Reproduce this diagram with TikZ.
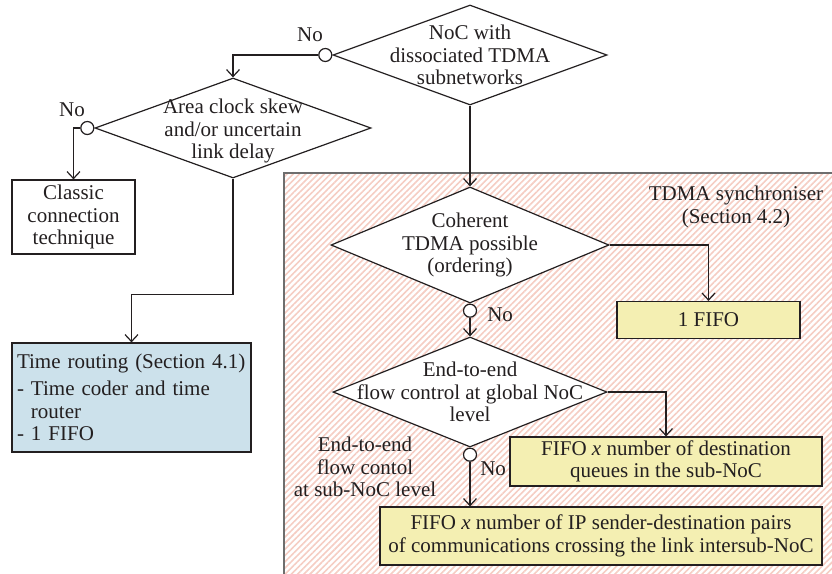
\documentclass[tikz,border=0pt]{standalone}
\usepackage{fontspec}
\setmainfont{Liberation Serif}
\usetikzlibrary{arrows.meta,shapes.geometric,patterns.meta,positioning}

\definecolor{ink}{HTML}{231F20}
\definecolor{rule}{HTML}{6E6E6E}
\definecolor{hatch}{RGB}{245,205,195}
\definecolor{routefill}{HTML}{CCE1EB}
\definecolor{fifofill}{HTML}{F4EFB2}

\begin{document}
\begin{tikzpicture}[x=1pt, y=-1pt,
        every node/.style={text=ink, font=\fontsize{21}{22.5}\selectfont},
        decision/.style={diamond, draw=ink, fill=white, line width=1.2pt, inner sep=0pt},
        words/.style={align=center, inner sep=0pt},
        box/.style={rectangle, draw=ink, line width=1.2pt, align=center, inner sep=0pt},
        tap/.style={circle, draw=ink, fill=white, line width=1.2pt, minimum size=13pt, inner sep=0pt},
        flow/.style={draw=ink, line width=1.2pt, -{Straight Barb[length=7pt, width=13pt]}}]
        \useasboundingbox (0,0) rectangle (832,573);

        \path[pattern={Lines[angle=45, distance=4.4pt, line width=1.6pt]}, pattern color=hatch] (284,173) rectangle (840,580);
        \draw[rule, line width=1.5pt] (284,580) -- (284,173) -- (840,173);

        \node[decision, minimum width=274pt, minimum height=100pt] (noc) at (470,55) {};
        \node[words] (noctext) at (noc.center) {NoC with\\dissociated TDMA\\subnetworks};
        \node[tap, anchor=east] (noctap) at (noc.west) {};
        \node[words] (nocno) at (310,35) {No};

        \node[decision, minimum width=276pt, minimum height=100pt] (area) at (233,128) {};
        \node[words] (areatext) at (233,131) {Area clock skew\\and/or uncertain\\link delay};
        \node[tap, anchor=east] (areatap) at (area.west) {};
        \node[words] (areano) at (72,110) {No};

        \node[box, minimum width=123pt, minimum height=74pt] (classic) at (73.5,217) {Classic\\connection\\technique};
        \node[box, fill=routefill, minimum width=239pt, minimum height=109pt, text width=229pt, align=left] (timing) at (131.5,397.5)
            {Time routing (Section 4.1)\\[5pt]- Time coder and time\\\hphantom{-\ }router\\- 1 FIFO};

        \node[words] (synctext) at (736,207) {TDMA synchroniser\\(Section 4.2)};

        \node[decision, minimum width=278pt, minimum height=116pt] (coherent) at (470,245) {};
        \node[words] (coherenttext) at (coherent.center) {Coherent\\TDMA possible\\(ordering)};
        \node[tap, anchor=north] (coherenttap) at (coherent.south) {};
        \node[words, right=10pt of coherenttap, yshift=-4pt] (coherentno) {No};
        \node[box, fill=fifofill, minimum width=183pt, minimum height=37pt] (fifoone) at (708.5,320) {1 FIFO};

        \node[decision, minimum width=274pt, minimum height=110pt] (flowctl) at (470,392) {};
        \node[words] (flowctltext) at (flowctl.center) {End-to-end\\flow control at global NoC\\level};
        \node[tap, anchor=north] (flowctltap) at (flowctl.south) {};
        \node[words] (subnoc) at (365,467) {End-to-end\\flow contol\\at sub-NoC level};

        \node[box, fill=fifofill, minimum width=312pt, minimum height=49pt] (fifodest) at (666,461.5) {FIFO \textit{x} number of destination\\queues in the sub-NoC};
        \node[box, fill=fifofill, minimum width=442pt, minimum height=58pt] (fifopair) at (601,536) {FIFO \textit{x} number of IP sender-destination pairs\\of communications crossing the link intersub-NoC};
        \node[words, right=3pt of flowctltap, yshift=-14pt] (flowctlno) {No};

        \draw[flow] (noctap.west) -| (area.north);
        \draw[flow] (areatap.west) -| (classic.north);
        \draw[flow] (area.south) -- ++(0,116) -| (timing.north);
        \draw[flow] (noc.south) -- (coherent.north);
        \draw[flow] (coherent.east) -| (fifoone.north);
        \draw[flow] (coherenttap.south) -- (flowctl.north);
        \draw[flow] (flowctl.east) -| (fifodest.north);
        \draw[flow] (flowctltap.south) -- (flowctltap.south |- fifopair.north);
\end{tikzpicture}
\end{document}
